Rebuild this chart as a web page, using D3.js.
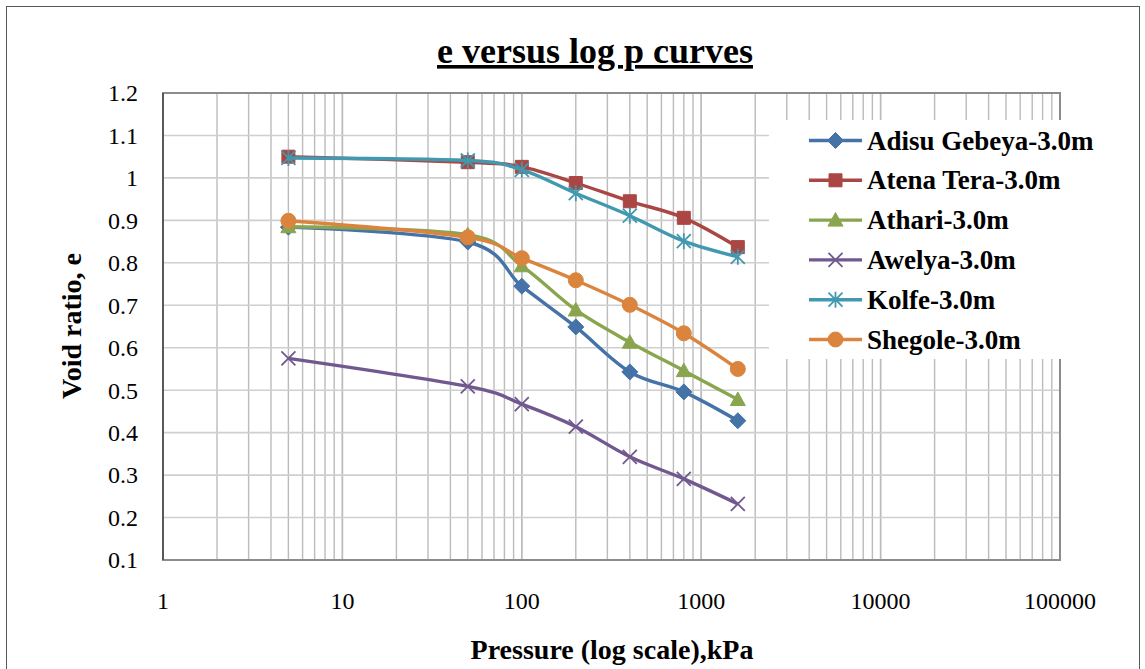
<!DOCTYPE html>
<html>
<head>
<meta charset="utf-8">
<script src="https://cdn.jsdelivr.net/npm/d3@7"></script>
<style>
  body { margin: 0; background: #fff; }
  text { font-family: "Liberation Serif", "Times New Roman", serif; }
</style>
</head>
<body>
<div id="graph"></div>
<script>
const pressure = [5, 50, 100, 200, 400, 800, 1600];
const adisuGebeya = [0.884, 0.849, 0.745, 0.649, 0.543, 0.496, 0.428];
const atenaTera = [1.050, 1.037, 1.026, 0.988, 0.945, 0.906, 0.837];
const athari = [0.885, 0.866, 0.793, 0.689, 0.613, 0.546, 0.478];
const awelya = [0.575, 0.509, 0.467, 0.414, 0.343, 0.291, 0.232];
const kolfe = [1.047, 1.041, 1.019, 0.964, 0.911, 0.851, 0.814];
const shegole = [0.899, 0.860, 0.811, 0.759, 0.701, 0.634, 0.550];

const seriesNames = ["Adisu Gebeya-3.0m", "Atena Tera-3.0m", "Athari-3.0m", "Awelya-3.0m", "Kolfe-3.0m", "Shegole-3.0m"];
const xTicks = [1, 10, 100, 1000, 10000, 100000];
const yTicks = [0.1, 0.2, 0.3, 0.4, 0.5, 0.6, 0.7, 0.8, 0.9, 1, 1.1, 1.2];

const series = [
  {name: seriesNames[0], values: adisuGebeya, color: "#4572A7", marker: "diamond"},
  {name: seriesNames[1], values: atenaTera, color: "#AA4643", marker: "square"},
  {name: seriesNames[2], values: athari, color: "#89A54E", marker: "triangle"},
  {name: seriesNames[3], values: awelya, color: "#71588F", marker: "cross"},
  {name: seriesNames[4], values: kolfe, color: "#4198AF", marker: "star"},
  {name: seriesNames[5], values: shegole, color: "#DB843D", marker: "circle"}
];

const W = 1145, H = 669;
const plot = {left: 163, top: 93, right: 1060, bottom: 560};

const svg = d3.select("#graph").append("svg")
  .attr("width", W).attr("height", H);

// outer chart frame
svg.append("rect")
  .attr("x", 6.5).attr("y", 6.5)
  .attr("width", 1133).attr("height", 680)
  .attr("fill", "none").attr("stroke", "#595959").attr("stroke-width", 1);

const x = d3.scaleLog().domain([1, 100000]).range([plot.left, plot.right]);
const y = d3.scaleLinear().domain([0.1, 1.2]).range([plot.bottom, plot.top]);

// gridlines
const minor = [];
for (let d = 1; d < 100000; d *= 10) {
  for (let k = 1; k <= 10; k++) minor.push(d * k);
}
svg.append("g").selectAll("line")
  .data(minor.filter(v => v > 1 && v < 100000))
  .join("line")
  .attr("x1", d => x(d)).attr("x2", d => x(d))
  .attr("y1", plot.top).attr("y2", plot.bottom)
  .attr("stroke", "#BBBBBB").attr("stroke-width", 1.4);

svg.append("g").selectAll("line")
  .data(yTicks.slice(1, -1))
  .join("line")
  .attr("x1", plot.left).attr("x2", plot.right)
  .attr("y1", d => y(d)).attr("y2", d => y(d))
  .attr("stroke", "#CFCFCF").attr("stroke-width", 1.6);

// plot border
svg.append("rect")
  .attr("x", plot.left).attr("y", plot.top)
  .attr("width", plot.right - plot.left).attr("height", plot.bottom - plot.top)
  .attr("fill", "none").attr("stroke", "#8C8C8C").attr("stroke-width", 2);
svg.append("line")
  .attr("x1", plot.left).attr("x2", plot.left)
  .attr("y1", plot.top).attr("y2", plot.bottom)
  .attr("stroke", "#595959").attr("stroke-width", 2);

// tick labels
svg.append("g").selectAll("text")
  .data(xTicks)
  .join("text")
  .attr("x", d => x(d)).attr("y", 609)
  .attr("text-anchor", "middle")
  .style("font-size", "24px")
  .text(d => d);

svg.append("g").selectAll("text")
  .data(yTicks)
  .join("text")
  .attr("x", 138).attr("y", d => y(d))
  .attr("dy", "0.35em")
  .attr("text-anchor", "end")
  .style("font-size", "24px")
  .text(d => d);

// titles
svg.append("text")
  .attr("x", 595).attr("y", 63)
  .attr("text-anchor", "middle")
  .style("font-size", "36px").style("font-weight", "bold")
  .style("text-decoration", "underline")
  .text("e versus log p curves");

svg.append("text")
  .attr("x", 612).attr("y", 659)
  .attr("text-anchor", "middle")
  .style("font-size", "28px").style("font-weight", "bold")
  .text("Pressure (log scale),kPa");

svg.append("text")
  .attr("transform", "translate(81,326) rotate(-90)")
  .attr("text-anchor", "middle")
  .style("font-size", "28px").style("font-weight", "bold")
  .text("Void ratio, e");

function markerPath(type, cx, cy) {
  const p = d3.path();
  if (type === "diamond") {
    const r = 8;
    p.moveTo(cx, cy - r); p.lineTo(cx + r, cy); p.lineTo(cx, cy + r); p.lineTo(cx - r, cy); p.closePath();
  } else if (type === "square") {
    const r = 6.5;
    p.rect(cx - r, cy - r, 2 * r, 2 * r);
  } else if (type === "triangle") {
    const r = 7.5;
    p.moveTo(cx, cy - r); p.lineTo(cx + r, cy + r * 0.8); p.lineTo(cx - r, cy + r * 0.8); p.closePath();
  } else if (type === "circle") {
    p.arc(cx, cy, 7.5, 0, 2 * Math.PI);
  } else if (type === "cross") {
    const r = 7;
    p.moveTo(cx - r, cy - r); p.lineTo(cx + r, cy + r);
    p.moveTo(cx + r, cy - r); p.lineTo(cx - r, cy + r);
  } else if (type === "star") {
    const r = 7;
    p.moveTo(cx - r, cy - r); p.lineTo(cx + r, cy + r);
    p.moveTo(cx + r, cy - r); p.lineTo(cx - r, cy + r);
    p.moveTo(cx, cy - r - 1); p.lineTo(cx, cy + r + 1);
  }
  return p.toString();
}

function drawMarker(g, s, cx, cy) {
  const open = s.marker === "cross" || s.marker === "star";
  g.append("path")
    .attr("d", markerPath(s.marker, cx, cy))
    .attr("fill", open ? "none" : s.color)
    .attr("stroke", s.color)
    .attr("stroke-width", open ? 1.8 : 1);
}

const line = d3.line()
  .x(d => x(d.p))
  .y(d => y(d.e))
  .curve(d3.curveCardinal.tension(0));

series.forEach(s => {
  const pts = pressure.map((p, i) => ({p, e: s.values[i]}));
  const g = svg.append("g");
  g.append("path")
    .datum(pts)
    .attr("d", line)
    .attr("fill", "none")
    .attr("stroke", s.color)
    .attr("stroke-width", 3.4)
    .attr("stroke-linejoin", "round");
  pts.forEach(d => drawMarker(g, s, x(d.p), y(d.e)));
});

// legend
const legend = svg.append("g");
legend.append("rect")
  .attr("x", 769).attr("y", 120)
  .attr("width", 340).attr("height", 239)
  .attr("fill", "#fff");

series.forEach((s, i) => {
  const cy = 140.5 + i * 39.8;
  legend.append("line")
    .attr("x1", 809).attr("x2", 862)
    .attr("y1", cy).attr("y2", cy)
    .attr("stroke", s.color).attr("stroke-width", 3.4);
  drawMarker(legend, s, 835.5, cy);
  legend.append("text")
    .attr("x", 867).attr("y", cy + 9)
    .style("font-size", "27px").style("font-weight", "bold")
    .text(s.name);
});
</script>
</body>
</html>
